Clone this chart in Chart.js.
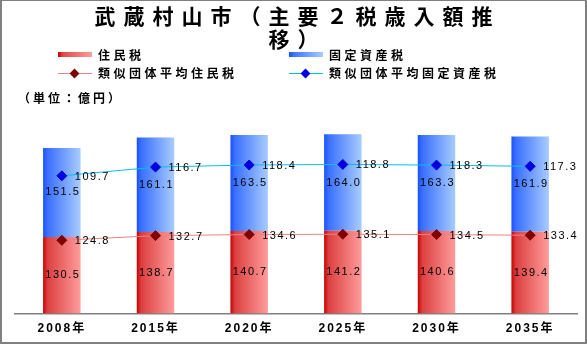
<!DOCTYPE html>
<html lang="ja">
<head>
  <meta charset="UTF-8">
  <title>武蔵村山市（主要２税歳入額推移）</title>
  <script src="https://cdn.jsdelivr.net/npm/chart.js"></script>
  <style>
    body {
      margin: 0;
      background: #fff;
      font-family: "Liberation Sans", "Noto Sans CJK JP", sans-serif;
    }
    #wrap {
      position: relative;
      width: 587px;
      height: 344px;
      overflow: hidden;
    }
    #frame {
      position: absolute;
      left: 0; top: 0;
      width: 587px; height: 344px;
      box-sizing: border-box;
      border: 2px solid #808080;
      border-top-width: 1px;
      pointer-events: none;
    }
    canvas {
      position: absolute;
      left: 0; top: 0;
    }
    #title {
      position: absolute;
      left: 0; top: 4px;
      width: 587px;
      text-align: center;
      font-family: "Noto Sans CJK JP", sans-serif;
      font-weight: bold;
      font-size: 21px;
      line-height: 23px;
      letter-spacing: 8px;
      padding-left: 8px;
      box-sizing: border-box;
      color: #000;
    }
    .leg {
      position: absolute;
      font-family: "Noto Sans CJK JP", sans-serif;
      font-weight: bold;
      font-size: 12px;
      letter-spacing: 3.5px;
      line-height: 14px;
      color: #000;
      white-space: nowrap;
    }
    .sw {
      position: absolute;
      width: 34px;
      height: 5px;
    }
    .ln {
      position: absolute;
      width: 34px;
      height: 1px;
    }
    .dm {
      position: absolute;
      width: 7px;
      height: 7px;
      transform: rotate(45deg);
    }
    #unit {
      position: absolute;
      left: 18px; top: 91px;
      font-family: "Noto Sans CJK JP", sans-serif;
      font-weight: bold;
      font-size: 12px;
      letter-spacing: 3px;
      line-height: 14px;
      white-space: nowrap;
    }
  </style>
</head>
<body>
<div id="wrap">
  <canvas id="taxChart" width="587" height="344"></canvas>

  <div id="title">武蔵村山市（主要２税歳入額推<br>移）</div>

  <div class="sw" style="left:58px; top:52px; background:linear-gradient(to right,#c80000,#e04a4a 15%,#ff9c9c);"></div>
  <div class="leg" style="left:98px; top:48px;">住民税</div>
  <div class="sw" style="left:289px; top:52px; background:linear-gradient(to right,#1a50ff,#3c74ff 15%,#a8ccff);"></div>
  <div class="leg" style="left:329px; top:48px;">固定資産税</div>

  <div class="ln" style="left:58px; top:73px; background:#f08080;"></div>
  <div class="dm" style="left:71px; top:70px; background:#800000;"></div>
  <div class="leg" style="left:98px; top:66px;">類似団体平均住民税</div>
  <div class="ln" style="left:289px; top:73px; background:#00c0f0;"></div>
  <div class="dm" style="left:302px; top:70px; background:#0000e0;"></div>
  <div class="leg" style="left:329px; top:66px;">類似団体平均固定資産税</div>

  <div id="unit">（単位：億円）</div>
  <div id="frame"></div>
</div>

<script>
  const years = ['2008年', '2015年', '2020年', '2025年', '2030年', '2035年'];
  const juminzei = [130.5, 138.7, 140.7, 141.2, 140.6, 139.4];
  const koteiShisanzei = [151.5, 161.1, 163.5, 164.0, 163.3, 161.9];
  const ruijiJuminzei = [124.8, 132.7, 134.6, 135.1, 134.5, 133.4];
  const ruijiKotei = [109.7, 116.7, 118.4, 118.8, 118.3, 117.3];

  const BAR_FRACTION = 0.4;

  // horizontal gradient across each bar, dark on the left
  function barGradient(stops) {
    return function (c) {
      const chart = c.chart;
      const area = chart.chartArea;
      if (!area || c.dataIndex === undefined) return stops[stops.length - 1][1];
      const x = chart.scales.x.getPixelForValue(c.dataIndex);
      const half = (area.width / years.length) * BAR_FRACTION / 2;
      const g = chart.ctx.createLinearGradient(x - half, 0, x + half, 0);
      stops.forEach(s => g.addColorStop(s[0], s[1]));
      return g;
    };
  }

  const redStops = [[0, '#c80000'], [0.12, '#dc4040'], [1, '#ff9c9c']];
  const blueStops = [[0, '#1a50ff'], [0.12, '#3a70ff'], [1, '#a8ccff']];

  const valueLabels = {
    id: 'valueLabels',
    afterDatasetsDraw(chart) {
      const ctx = chart.ctx;
      ctx.save();
      ctx.font = '11px "Liberation Sans", sans-serif';
      ctx.fillStyle = '#000';
      ctx.textBaseline = 'middle';
      ctx.letterSpacing = '1.5px';
      chart.data.datasets.forEach((ds, i) => {
        const meta = chart.getDatasetMeta(i);
        meta.data.forEach((el, j) => {
          const txt = ds.data[j].toFixed(1);
          if (ds.type === 'bar') {
            ctx.textAlign = 'center';
            ctx.fillText(txt, el.x + 1, (el.y + el.base) / 2);
          } else {
            ctx.textAlign = 'left';
            ctx.fillText(txt, el.x + 13, el.y + 1);
          }
        });
      });
      ctx.restore();
    }
  };

  const tickSpacing = {
    id: 'tickSpacing',
    beforeDraw(chart) { chart.ctx.letterSpacing = '2px'; },
    beforeDatasetsDraw(chart) { chart.ctx.letterSpacing = '0px'; }
  };

  const ctx = document.getElementById('taxChart').getContext('2d');
  new Chart(ctx, {
    type: 'bar',
    data: {
      labels: years,
      datasets: [
        {
          type: 'bar',
          label: '住民税',
          data: juminzei,
          stack: 'bars',
          order: 1,
          backgroundColor: barGradient(redStops),
          borderWidth: 0,
          barPercentage: BAR_FRACTION,
          categoryPercentage: 1.0
        },
        {
          type: 'bar',
          label: '固定資産税',
          data: koteiShisanzei,
          stack: 'bars',
          order: 1,
          backgroundColor: barGradient(blueStops),
          borderWidth: 0,
          barPercentage: BAR_FRACTION,
          categoryPercentage: 1.0
        },
        {
          type: 'line',
          label: '類似団体平均住民税',
          data: ruijiJuminzei,
          stack: 'lines',
          order: 0,
          borderColor: '#f08080',
          borderWidth: 1,
          pointStyle: 'rectRot',
          pointRadius: 5,
          pointBackgroundColor: '#800000',
          pointBorderColor: '#800000',
          fill: false,
          tension: 0
        },
        {
          type: 'line',
          label: '類似団体平均固定資産税',
          data: ruijiKotei,
          stack: 'lines',
          order: 0,
          borderColor: '#00c0f0',
          borderWidth: 1,
          pointStyle: 'rectRot',
          pointRadius: 5,
          pointBackgroundColor: '#0000e0',
          pointBorderColor: '#0000e0',
          fill: false,
          tension: 0
        }
      ]
    },
    options: {
      responsive: false,
      animation: false,
      devicePixelRatio: 1,
      layout: { padding: { top: 108, left: 15, right: 10, bottom: 0 } },
      plugins: {
        legend: { display: false },
        title: { display: false },
        tooltip: { enabled: false }
      },
      scales: {
        x: {
          stacked: true,
          grid: { display: false, drawTicks: false, tickLength: 0 },
          border: { display: true, color: '#808080', width: 1.5 },
          ticks: {
            color: '#000',
            padding: 8,
            font: { family: '"Liberation Sans", "Noto Sans CJK JP", sans-serif', size: 12, weight: 'bold' }
          }
        },
        y: {
          display: false,
          stacked: true,
          min: 0,
          max: 350
        }
      }
    },
    plugins: [valueLabels, tickSpacing]
  });
</script>
</body>
</html>
